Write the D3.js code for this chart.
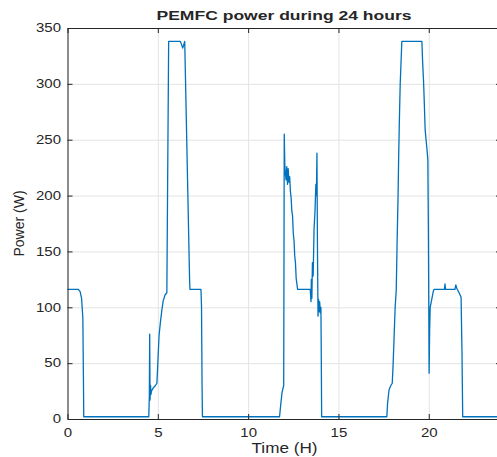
<!doctype html>
<html>
  <head>
    <title>PEMFC power during 24 hours</title>
    <script src="https://d3js.org/d3.v7.min.js"></script>
    <style>
      body { margin: 0; background: #fff; }
      text { font-family: 'Liberation Sans', Arial, Helvetica, sans-serif; fill: #262626; }
    </style>
  </head>
  <body>
    <svg id="chart" width="497" height="457"></svg>

    <script>
      // values (hours, watts)
      var time = [
        0, 0.6, 0.7, 0.78, 0.85, 0.88, 0.9,
        4.5, 4.53, 4.55, 4.57, 4.6, 4.62, 4.65, 4.75, 4.87, 4.95, 5.0, 5.07, 5.14, 5.22, 5.3, 5.4, 5.5,
        5.6, 6.16, 6.25, 6.38, 6.49, 6.76, 6.78, 7.39, 7.42, 7.45, 7.47,
        11.74, 11.8, 11.88, 11.97, 12.0, 12.03, 12.06, 12.1, 12.14, 12.18, 12.22, 12.26, 12.3,
        12.34, 12.38, 12.42, 12.46, 12.5, 12.54, 12.58, 12.62, 12.66, 12.7, 12.74,
        13.44, 13.48, 13.5, 13.53, 13.56, 13.6, 13.65, 13.7, 13.75, 13.78, 13.81, 13.84, 13.87,
        13.9, 13.93, 13.96, 14.0, 14.03, 14.05, 14.07,
        17.68, 17.72, 17.8, 17.9, 17.98, 18.03, 18.14, 18.2, 18.25, 18.3, 18.33, 18.37, 18.42, 18.51,
        19.62, 19.66, 19.71, 19.75, 19.8, 19.84, 19.88, 19.92, 19.95, 19.98, 20.02, 20.05, 20.08,
        20.19, 20.26, 20.3, 20.87, 20.9, 20.93, 21.45, 21.5, 21.55, 21.68, 21.79, 21.84, 21.88,
        24
      ]
      var power = [
        116, 116, 114, 108, 90, 40, 2,
        2, 20, 76, 17, 30, 22, 25, 28, 30, 32, 50, 75, 86, 97, 106, 111, 113,
        338, 338, 338, 332, 338, 124, 116, 116, 100, 30, 2,
        2, 12, 24, 30, 255, 228, 220, 214, 226, 210, 224, 212, 217,
        204, 198, 186, 182, 166, 160, 146, 140, 126, 121, 116,
        116, 105, 125, 108, 140, 128, 170, 185, 210, 200, 238, 150, 92,
        107, 96, 105, 95, 100, 57, 2,
        2, 14, 26, 30, 32, 50, 100, 115, 160, 199, 230, 265, 300, 338,
        338, 320, 303, 285, 259, 252, 245, 238, 232, 169, 41, 80, 100,
        109, 115, 116, 116, 121, 116, 116, 120, 117, 113, 109, 60, 2,
        2
      ]
      var xTicks = [0, 5, 10, 15, 20]
      var yTicks = [0, 50, 100, 150, 200, 250, 300, 350]

      var margin = { left: 67.5, top: 28, right: 501, bottom: 419 }
      var width = margin.right - margin.left
      var height = margin.bottom - margin.top
      var stretch = 1.25

      var svg = d3.select('#chart')
      var g = svg.append('g').attr('transform', 'translate(' + margin.left + ',' + margin.top + ')')

      var x = d3.scaleLinear().domain([0, 24]).range([0, width])
      var y = d3.scaleLinear().domain([0, 350]).range([height, 0])

      // grid
      g.append('g')
        .attr('class', 'grid')
        .attr('transform', 'translate(0,' + height + ')')
        .call(d3.axisBottom(x).tickValues(xTicks).tickSize(-height).tickFormat(''))
      g.append('g')
        .attr('class', 'grid')
        .call(d3.axisLeft(y).tickValues(yTicks).tickSize(-width).tickFormat(''))
      g.selectAll('.grid .domain').remove()
      g.selectAll('.grid line').attr('stroke', '#e3e3e3')

      // power curve
      var line = d3.line()
        .x((d, i) => x(time[i]))
        .y((d) => y(d))
      g.append('path')
        .datum(power)
        .attr('d', line)
        .attr('fill', 'none')
        .attr('stroke', '#0072BD')
        .attr('stroke-width', 1.3)
        .attr('stroke-linejoin', 'round')

      // axes with inward ticks
      var xAxis = g.append('g')
        .attr('class', 'axis')
        .attr('transform', 'translate(0,' + height + ')')
        .call(d3.axisBottom(x).tickValues(xTicks).tickSizeInner(-5).tickSizeOuter(0).tickPadding(9))
      var yAxis = g.append('g')
        .attr('class', 'axis')
        .call(d3.axisLeft(y).tickValues(yTicks).tickSizeInner(-5).tickSizeOuter(0).tickPadding(7))
      g.append('g')
        .attr('class', 'axis')
        .call(d3.axisTop(x).tickValues(xTicks).tickSizeInner(-5).tickSizeOuter(0).tickFormat(''))
      g.append('g')
        .attr('class', 'axis')
        .attr('transform', 'translate(' + width + ',0)')
        .call(d3.axisRight(y).tickValues(yTicks).tickSizeInner(-5).tickSizeOuter(0).tickFormat(''))

      g.selectAll('.axis .domain, .axis .tick line').attr('stroke', '#262626')
      g.selectAll('.axis .tick text')
        .attr('font-size', 12)
        .attr('font-family', null)
        .attr('fill', '#262626')
      xAxis.selectAll('.tick text').attr('transform', 'scale(' + stretch + ',1)')
      yAxis.selectAll('.tick text')
        .attr('x', -6.5 / stretch)
        .attr('transform', 'scale(' + stretch + ',1)')

      // labels
      svg.append('text')
        .attr('x', 284)
        .attr('y', 20)
        .attr('text-anchor', 'middle')
        .attr('font-size', 13.5)
        .attr('font-weight', 'bold')
        .attr('fill', '#000')
        .attr('textLength', 255)
        .attr('lengthAdjust', 'spacingAndGlyphs')
        .text('PEMFC power during 24 hours')

      svg.append('text')
        .attr('x', 284.5)
        .attr('y', 453)
        .attr('text-anchor', 'middle')
        .attr('font-size', 14)
        .attr('textLength', 66)
        .attr('lengthAdjust', 'spacingAndGlyphs')
        .text('Time (H)')

      svg.append('text')
        .attr('transform', 'translate(23.5,223.5) rotate(-90)')
        .attr('text-anchor', 'middle')
        .attr('font-size', 14)
        .text('Power (W)')
    </script>
  </body>
</html>
